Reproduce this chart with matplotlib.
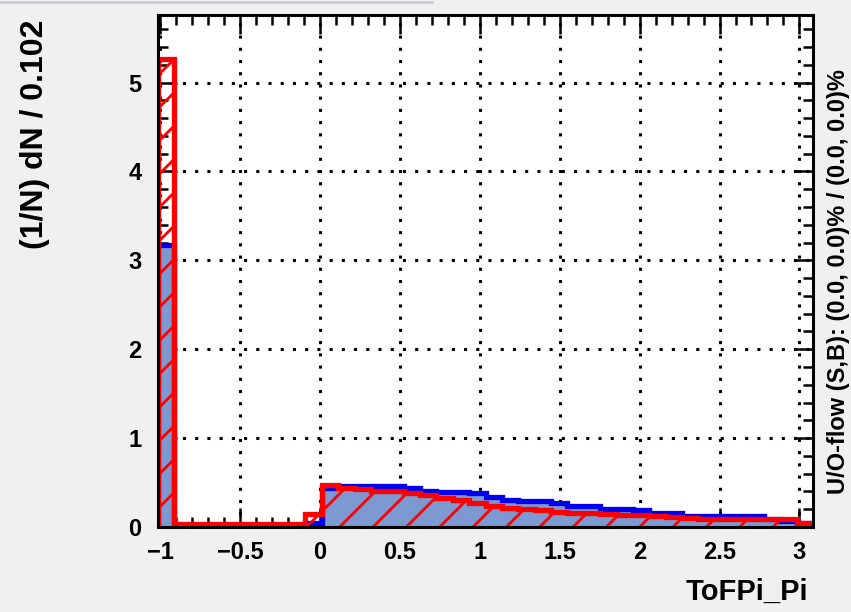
import numpy as np
import matplotlib
matplotlib.use("Agg")
import matplotlib.pyplot as plt
from matplotlib.ticker import MultipleLocator
from matplotlib.lines import Line2D

plt.rcParams['font.family'] = ['Liberation Sans', 'DejaVu Sans']
plt.rcParams['font.weight'] = 'bold'
plt.rcParams['hatch.linewidth'] = 2.0

# histogram range and normalised bin contents (40 bins, width ~0.102)
x_min, x_max = -1.015, 3.085
n_bins = 40

signal = [3.17, 0.01, 0.01, 0.01, 0.01, 0.01, 0.01, 0.01, 0.01, 0.05,
          0.44, 0.46, 0.465, 0.465, 0.46, 0.435, 0.40, 0.39, 0.39, 0.385,
          0.34, 0.30, 0.29, 0.29, 0.265, 0.24, 0.24, 0.20, 0.20, 0.19,
          0.155, 0.155, 0.125, 0.12, 0.12, 0.12, 0.12, 0.085, 0.07, 0.04]

background = [5.27, 0.03, 0.03, 0.03, 0.03, 0.03, 0.03, 0.03, 0.03, 0.15,
              0.47, 0.44, 0.43, 0.41, 0.40, 0.38, 0.36, 0.33, 0.30, 0.27,
              0.24, 0.21, 0.20, 0.19, 0.17, 0.16, 0.155, 0.145, 0.14, 0.135,
              0.12, 0.11, 0.10, 0.095, 0.09, 0.09, 0.09, 0.09, 0.085, 0.05]

edges = np.linspace(x_min, x_max, n_bins + 1)

fig = plt.figure(figsize=(8.51, 6.12), dpi=100, facecolor='#f0f0f0')
ax = fig.add_axes([158/851, 85/612, (813-158)/851, (527-15)/612])
ax.set_facecolor('white')

# signal: filled blue
ax.stairs(signal, edges, fill=True, facecolor='#7d99d1', edgecolor='none', zorder=2)
ax.stairs(signal, edges, fill=False, edgecolor='#0000ee', linewidth=3.8, zorder=3)
# background: red hatched
ax.stairs(background, edges, fill=True, facecolor='none', edgecolor='red',
          hatch='/', linewidth=0, zorder=4)
ax.stairs(background, edges, fill=False, edgecolor='red', linewidth=3.8, zorder=5)

ax.set_xlim(x_min, x_max)
ax.set_ylim(0, 5.76)
ax.xaxis.set_major_locator(MultipleLocator(0.5))
ax.xaxis.set_minor_locator(MultipleLocator(0.1))
ax.yaxis.set_major_locator(MultipleLocator(1))
ax.yaxis.set_minor_locator(MultipleLocator(0.2))
ax.set_xticks([-1, -0.5, 0, 0.5, 1, 1.5, 2, 2.5, 3])
ax.set_xticklabels(['\u22121', '\u22120.5', '0', '0.5', '1', '1.5', '2', '2.5', '3'])

ax.tick_params(which='both', direction='in', top=True, right=True,
               width=1.8, colors='black', labelsize=17)
ax.tick_params(which='major', length=14, pad=10)
ax.tick_params(which='minor', length=7)
ax.tick_params(axis='y', pad=12)
for s in ax.spines.values():
    s.set_linewidth(2.2)
    s.set_zorder(10)

ax.grid(True, which='major', linestyle=(0, (1, 3)), color='black', linewidth=2.2, zorder=1)
ax.set_axisbelow(True)

fig.text(808/851, 1 - 592/612, 'ToFPi_Pi', ha='right', va='center', fontsize=21)
fig.text(35/851, 1 - 20/612, '(1/N) dN / 0.102', rotation=90, ha='center', va='top',
         fontsize=23)
fig.text(839/851, 1 - 282/612, 'U/O-flow (S,B): (0.0, 0.0)% / (0.0, 0.0)%',
         rotation=90, ha='center', va='center', fontsize=17)

# edge of the legend box above the frame
fig.add_artist(Line2D([0, 432/851], [1 - 1.5/612, 1 - 1.5/612], transform=fig.transFigure,
                      color='#c9ccd3', linewidth=2))

fig.savefig('out.png', dpi=100, facecolor=fig.get_facecolor())
